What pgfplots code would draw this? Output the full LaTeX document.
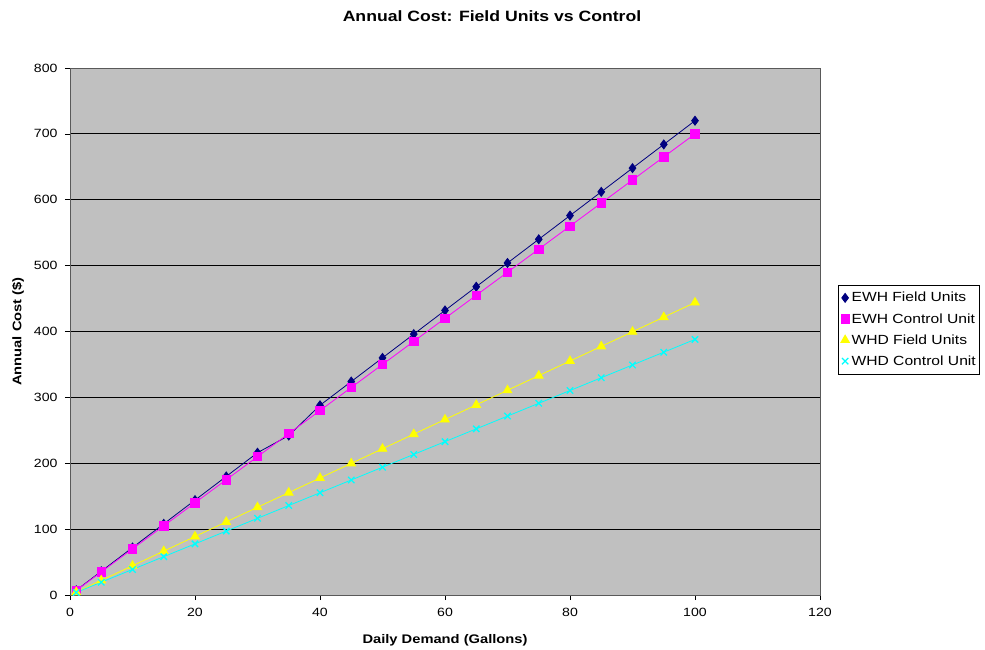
\documentclass[border=0pt]{standalone}
\usepackage{fontspec}
\setmainfont{Liberation Sans}[FakeStretch=1.18]
\usepackage{pgfplots}
\pgfplotsset{compat=1.18}

\definecolor{plotgray}{HTML}{C0C0C0}
\definecolor{ewhfield}{HTML}{000080}
\definecolor{ewhctrl}{HTML}{FF00FF}
\definecolor{whdfield}{HTML}{FFFF00}
\definecolor{whdctrl}{HTML}{00FFFF}

\begin{document}
\begin{tikzpicture}
    \pgfplotsset{
        scale only axis,
    }

    \begin{axis}[
        width=750bp, height=527bp,
        xmin=0, xmax=120, ymin=0, ymax=800,
        xtick={0,20,...,120},
        ytick={0,100,...,800},
        ymajorgrids,
        major grid style={black, line width=0.8pt},
        axis background/.style={fill=plotgray},
        axis line style={draw=gray!70!black, line width=0.8pt},
        tick align=outside,
        major tick length=5bp,
        tick style={black, line width=0.6pt},
        xtick pos=bottom, ytick pos=left,
        font=\fontsize{12}{14}\selectfont,
        /pgf/number format/assume math mode=true,
        yticklabel style={xshift=-4bp},
        xticklabel style={yshift=-5bp},
        xlabel={\textbf{Daily Demand (Gallons)}},
        ylabel={\textbf{Annual Cost (\$)}},
        label style={font=\fontsize{12.5}{14}\selectfont},
        every axis x label/.append style={at={(375bp,-45bp)}, anchor=center},
        every axis y label/.append style={at={(-52bp,263.5bp)}, anchor=center, rotate=0},
        legend style={at={(1.024,0.588)}, anchor=north west,
            draw=black, fill=white, font=\fontsize{13.3}{15}\selectfont,
            row sep=8bp, inner xsep=2bp, inner ysep=6bp,
            nodes={inner xsep=1.5bp, inner ysep=1bp}},
        legend image code/.code={%
            \draw[mark repeat=2, mark phase=2, #1, draw opacity=0]
                plot coordinates {(0cm,0cm) (0.16cm,0cm) (0.32cm,0cm)};},
        legend cell align=left,
        clip=false,
    ]
    \addplot[ewhfield, line width=0.8pt, mark=diamond*, mark size=4.5bp,
        mark options={fill=ewhfield, draw=ewhfield, draw opacity=1}]
        coordinates{ % EWH field units
            (1,7.2) (5,36) (10,72) (15,108) (20,144) (25,180) (30,216)
            (35,242) (40,288) (45,324) (50,360) (55,396) (60,432) (65,468)
            (70,504) (75,540) (80,576) (85,612) (90,648) (95,684) (100,720)
        };
    \addlegendentry{EWH Field Units}

    \addplot[ewhctrl, line width=0.8pt, mark=square*, mark size=4.2bp,
        mark options={fill=ewhctrl, draw=ewhctrl, draw opacity=1}]
        coordinates{ % EWH control unit
            (1,7) (5,35) (10,70) (15,105) (20,140) (25,175) (30,210)
            (35,245) (40,280) (45,315) (50,350) (55,385) (60,420) (65,455)
            (70,490) (75,525) (80,560) (85,595) (90,630) (95,665) (100,700)
        };
    \addlegendentry{EWH Control Unit}

    \addplot[whdfield, line width=0.8pt, mark=triangle*, mark size=5bp,
        mark options={fill=whdfield, draw=whdfield, draw opacity=1}]
        coordinates{ % WHD field units
            (1,4.4) (5,22.2) (10,44.4) (15,66.6) (20,88.8) (25,111) (30,133.2)
            (35,155.4) (40,177.6) (45,199.8) (50,222) (55,244.2) (60,266.4)
            (65,288.6) (70,310.8) (75,333) (80,355.2) (85,377.4) (90,399.6)
            (95,421.8) (100,444)
        };
    \addlegendentry{WHD Field Units}

    \addplot[whdctrl, line width=0.8pt, mark=x, mark size=4.5bp,
        mark options={draw=whdctrl, line width=1.3pt, draw opacity=1}]
        coordinates{ % WHD control unit
            (1,3.9) (5,19.4) (10,38.8) (15,58.2) (20,77.6) (25,97) (30,116.4)
            (35,135.8) (40,155.2) (45,174.6) (50,194) (55,213.4) (60,232.8)
            (65,252.2) (70,271.6) (75,291) (80,310.4) (85,329.8) (90,349.2)
            (95,368.6) (100,388)
        };
    \addlegendentry{WHD Control Unit}
    \end{axis}

    \node[font=\fontsize{15}{17}\selectfont\bfseries] at (422bp,579bp)
        {Annual Cost: Field Units vs Control};
    \pgfresetboundingbox
    \path[use as bounding box] (-70bp,-55bp) rectangle (915bp,595bp);
\end{tikzpicture}
\end{document}
